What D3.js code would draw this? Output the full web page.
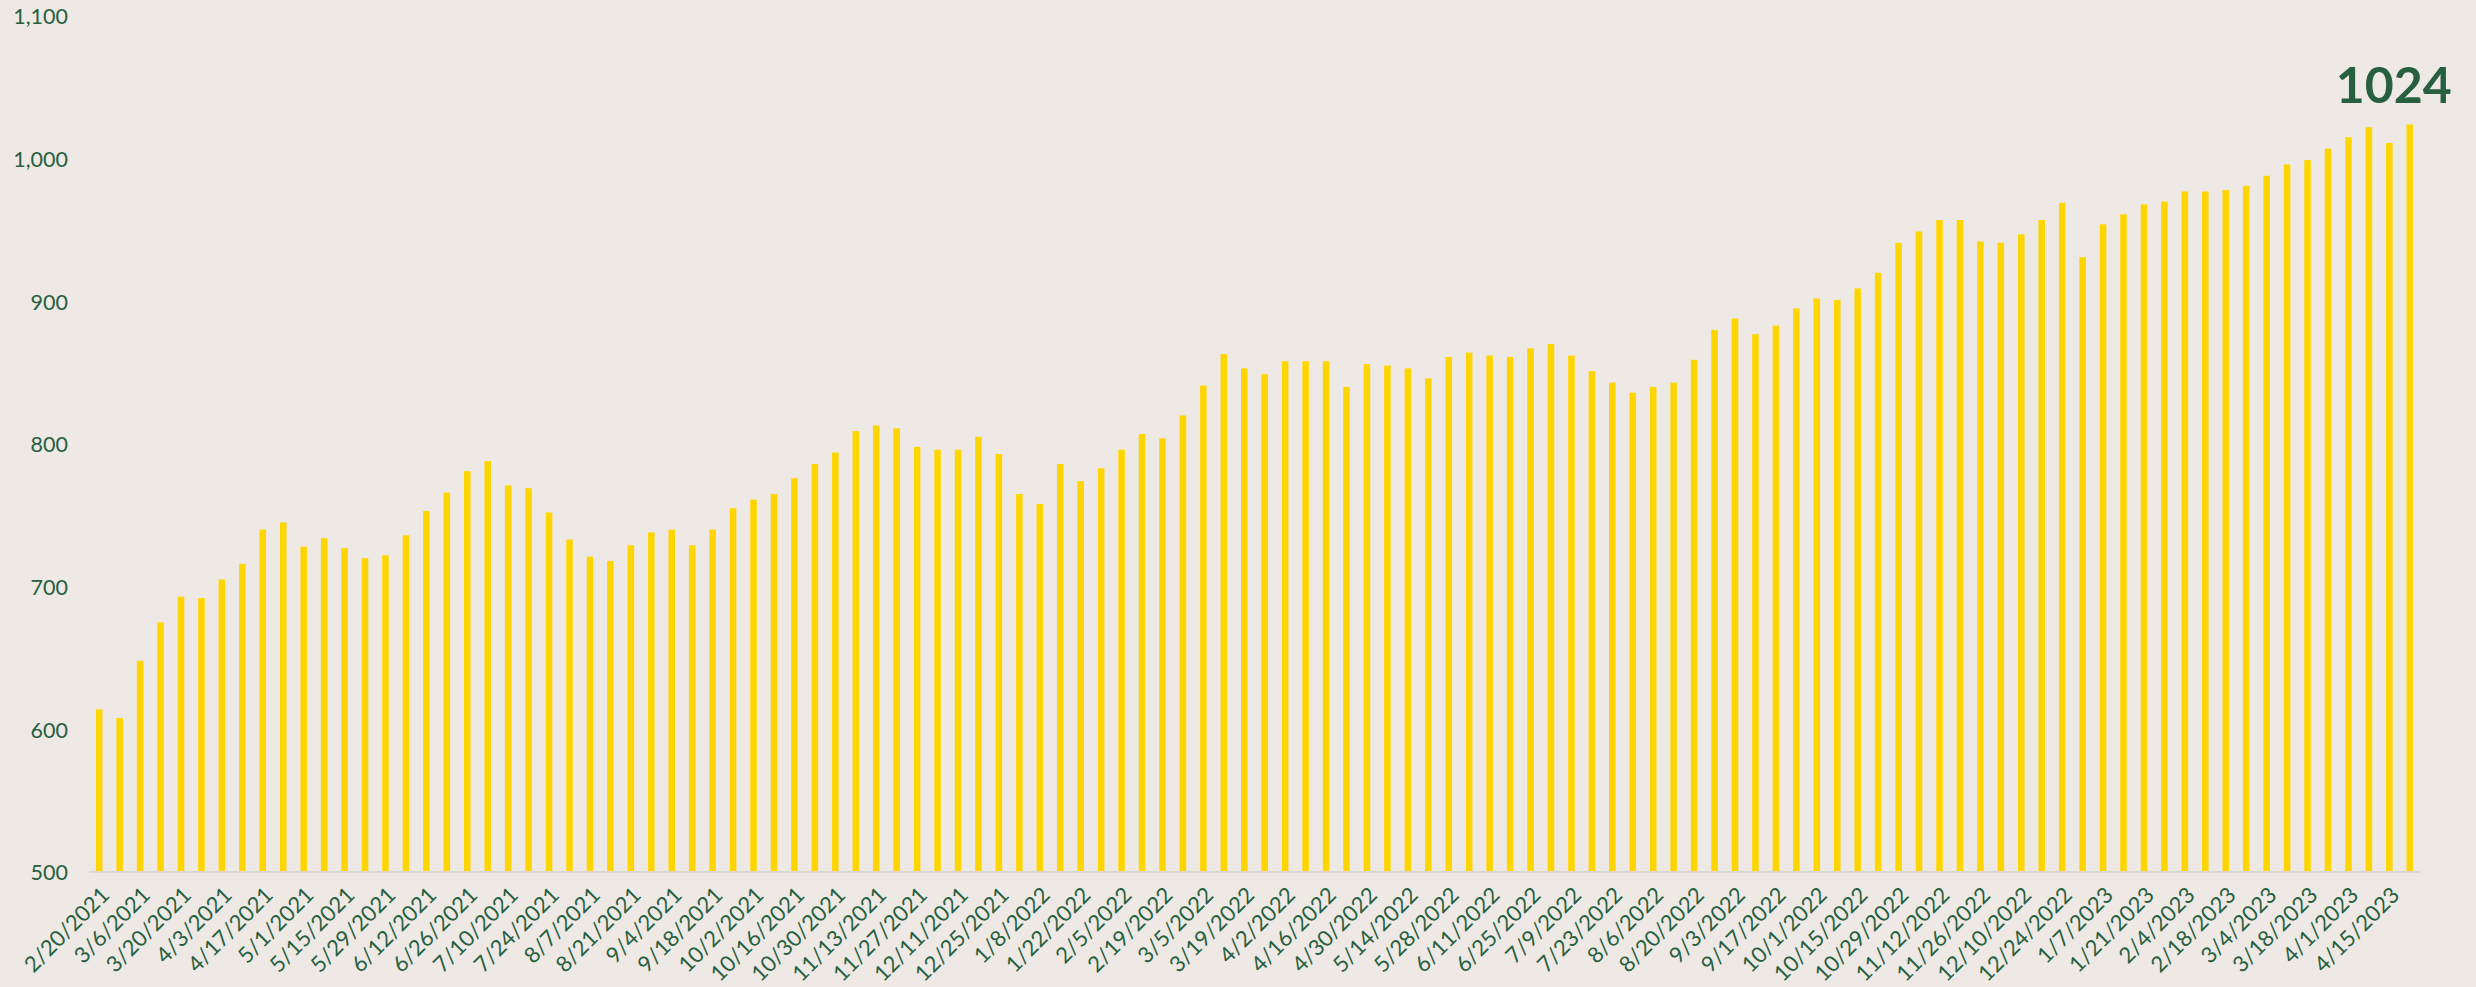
<!DOCTYPE html>
<html>
<head>
<meta charset="utf-8">
<script src="https://cdn.jsdelivr.net/npm/d3@7"></script>
<style>
  html, body { margin: 0; padding: 0; background: #EEE9E5; }
  svg { display: block; }
</style>
</head>
<body>
<svg id="chart" width="2476" height="987"></svg>
<script>
const dates = [
  "2/20/2021","2/27/2021","3/6/2021","3/13/2021","3/20/2021","3/27/2021","4/3/2021","4/10/2021","4/17/2021","4/24/2021",
  "5/1/2021","5/8/2021","5/15/2021","5/22/2021","5/29/2021","6/5/2021","6/12/2021","6/19/2021","6/26/2021","7/3/2021",
  "7/10/2021","7/17/2021","7/24/2021","7/31/2021","8/7/2021","8/14/2021","8/21/2021","8/28/2021","9/4/2021","9/11/2021",
  "9/18/2021","9/25/2021","10/2/2021","10/9/2021","10/16/2021","10/23/2021","10/30/2021","11/6/2021","11/13/2021","11/20/2021",
  "11/27/2021","12/4/2021","12/11/2021","12/18/2021","12/25/2021",
  "1/1/2022","1/8/2022","1/15/2022","1/22/2022","1/29/2022","2/5/2022","2/12/2022","2/19/2022","2/26/2022","3/5/2022",
  "3/12/2022","3/19/2022","3/26/2022","4/2/2022","4/9/2022","4/16/2022","4/23/2022","4/30/2022","5/7/2022","5/14/2022",
  "5/21/2022","5/28/2022","6/4/2022","6/11/2022","6/18/2022","6/25/2022","7/2/2022","7/9/2022","7/16/2022","7/23/2022",
  "7/30/2022","8/6/2022","8/13/2022","8/20/2022","8/27/2022","9/3/2022","9/10/2022","9/17/2022","9/24/2022","10/1/2022",
  "10/8/2022","10/15/2022","10/22/2022","10/29/2022","11/5/2022","11/12/2022","11/19/2022","11/26/2022","12/3/2022","12/10/2022",
  "12/17/2022","12/24/2022","12/31/2022",
  "1/7/2023","1/14/2023","1/21/2023","1/28/2023","2/4/2023","2/11/2023","2/18/2023","2/25/2023","3/4/2023","3/11/2023",
  "3/18/2023","3/25/2023","4/1/2023","4/8/2023","4/15/2023","4/22/2023"
];

const values = [
  614, 608, 648, 675, 693, 692, 705, 716, 740, 745,
  728, 734, 727, 720, 722, 736, 753, 766, 781, 788,
  771, 769, 752, 733, 721, 718, 729, 738, 740, 729,
  740, 755, 761, 765, 776, 786, 794, 809, 813, 811,
  798, 796, 796, 805, 793, 765, 758, 786, 774, 783,
  796, 807, 804, 820, 841, 863, 853, 849, 858, 858,
  858, 840, 856, 855, 853, 846, 861, 864, 862, 861,
  867, 870, 862, 851, 843, 836, 840, 843, 859, 880,
  888, 877, 883, 895, 902, 901, 909, 920, 941, 949,
  957, 957, 942, 941, 947, 957, 969, 931, 954, 961,
  968, 970, 977, 977, 978, 981, 988, 996, 999, 1007,
  1015, 1022, 1011, 1024
];

const yTicks = [500, 600, 700, 800, 900, 1000, 1100];
const calloutLabel = "1024";

(function () {
const svg = d3.select("#chart");
const mLeft = 89, mRight = 2420, mTop = 16, mBottom = 872;

const x = d3.scaleBand()
  .domain(dates)
  .range([mLeft, mRight])
  .paddingInner(0.68)
  .paddingOuter(0.34);

const y = d3.scaleLinear()
  .domain([500, 1100])
  .range([mBottom, mTop]);

const green = "#27603F";

// bars
svg.append("g")
  .selectAll("rect")
  .data(values)
  .join("rect")
  .attr("x", (d, i) => x(dates[i]))
  .attr("width", x.bandwidth())
  .attr("y", d => y(d))
  .attr("height", d => y(500) - y(d))
  .attr("fill", "#FFD500");

// baseline
svg.append("line")
  .attr("x1", mLeft).attr("x2", mRight)
  .attr("y1", y(500)).attr("y2", y(500))
  .attr("stroke", "#D9D6D3").attr("stroke-width", 2);

// y axis labels
const yAxis = d3.axisLeft(y).tickValues(yTicks).tickSize(0).tickPadding(0)
  .tickFormat(d3.format(","));
const gy = svg.append("g").attr("transform", "translate(68,0)").call(yAxis);
gy.select(".domain").remove();
gy.selectAll("text")
  .attr("fill", green)
  .attr("font-family", "Lato, sans-serif")
  .attr("font-size", 21.5)
  .attr("dy", "0.36em");

// x axis labels (every other week)
const xTickVals = dates.filter((d, i) => i % 2 === 0);
const xAxis = d3.axisBottom(x).tickValues(xTickVals).tickSize(0).tickPadding(0);
const gx = svg.append("g").attr("transform", `translate(0,${y(500)})`).call(xAxis);
gx.select(".domain").remove();
gx.selectAll("text")
  .attr("fill", green)
  .attr("font-family", "Lato, sans-serif")
  .attr("font-size", 22)
  .attr("text-anchor", "end")
  .attr("dy", "0.35em")
  .attr("y", 0)
  .attr("transform", "translate(6,19) rotate(-45)");

// callout
const lastIdx = values.length - 1;
svg.append("text")
  .attr("x", x(dates[lastIdx]) + x.bandwidth() / 2 - 16)
  .attr("y", y(values[lastIdx]) - 21)
  .attr("text-anchor", "middle")
  .attr("fill", green)
  .attr("font-family", "Lato, sans-serif")
  .attr("font-weight", 700)
  .attr("font-size", 50)
  .text(calloutLabel);
})();
</script>
</body>
</html>
